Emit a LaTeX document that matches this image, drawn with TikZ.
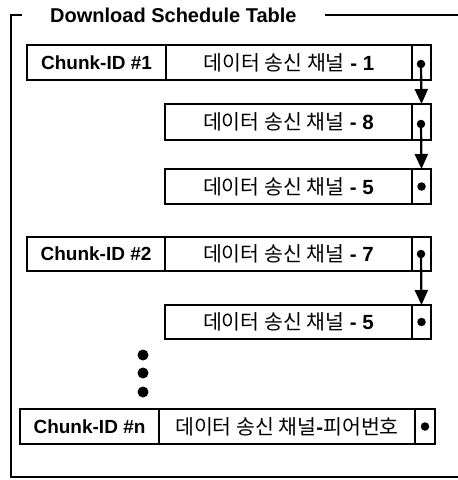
\documentclass[tikz,border=0pt]{standalone}
\usepackage{fontspec}
\setmainfont{Liberation Sans}
\newfontfamily\kr{Noto Sans CJK KR}
\usetikzlibrary{arrows.meta}
\begin{document}
\begin{tikzpicture}[x=1pt,y=-1pt,
  cell/.style={draw,line width=2.8pt,anchor=north west,inner sep=0pt,outer sep=0pt,minimum height=35pt},
  idtxt/.style={font=\fontsize{19}{20}\selectfont\bfseries},
  krtxt/.style={font=\fontsize{20.5}{22}\kr},
  ptrdot/.style={circle,fill=black,inner sep=0pt,minimum size=8.5pt},
  bigdot/.style={circle,fill=black,inner sep=0pt,minimum size=11pt},
  link/.style={line width=2.2pt,-{Triangle[width=13pt,length=15pt]}},
  frame/.style={line width=2.4pt}]
\useasboundingbox (0,0) rectangle (458,480);
% frame
\node[anchor=west,inner sep=0pt,font=\fontsize{20}{22}\selectfont\bfseries] (title) at (50,15) {Download Schedule Table};
\coordinate (tl) at (22,15);
\coordinate (bl) at (11,477);
\coordinate (br) at (458,477);
\coordinate (tr) at (458,15);
\coordinate (ts) at (325,15);
\draw[frame] (tl) -| (bl) -- (br);
\draw[frame] (ts) -- (tr);
% row 1
\node[cell,minimum width=139pt] (c1) at (27,45) {};
\node[idtxt] at (c1.center) {Chunk-ID \#1};
\node[cell,minimum width=246pt] (d1) at (166,45) {};
\node[krtxt] at (d1.center) {데이터 송신 채널\textbf{\rmfamily\ -\ 1}};
\node[cell,minimum width=19pt] (p1) at (412,45) {};
% row 2
\node[cell,minimum width=247pt,minimum height=36pt] (d2) at (165,104) {};
\node[krtxt] at (d2.center) {데이터 송신 채널\textbf{\rmfamily\ -\ 8}};
\node[cell,minimum width=19pt,minimum height=36pt] (p2) at (412,104) {};
% row 3
\node[cell,minimum width=247pt] (d3) at (165,169) {};
\node[krtxt] at (d3.center) {데이터 송신 채널\textbf{\rmfamily\ -\ 5}};
\node[cell,minimum width=19pt] (p3) at (412,169) {};
% row 4
\node[cell,minimum width=138pt,minimum height=34pt] (c4) at (27,237) {};
\node[idtxt] at (c4.center) {Chunk-ID \#2};
\node[cell,minimum width=247pt,minimum height=34pt] (d4) at (165,237) {};
\node[krtxt] at (d4.center) {데이터 송신 채널\textbf{\rmfamily\ -\ 7}};
\node[cell,minimum width=19pt,minimum height=34pt] (p4) at (412,237) {};
% row 5
\node[cell,minimum width=247pt,minimum height=34pt] (d5) at (165,305) {};
\node[krtxt] at (d5.center) {데이터 송신 채널\textbf{\rmfamily\ -\ 5}};
\node[cell,minimum width=19pt,minimum height=34pt] (p5) at (412,305) {};
% ellipsis dots
\node[bigdot] (e1) at (143,355) {};
\node[bigdot] (e2) at (143,373) {};
\node[bigdot] (e3) at (143,392) {};
% row n
\node[cell,minimum width=139pt] (cn) at (20,409) {};
\node[idtxt] at (cn.center) {Chunk-ID \#n};
\node[cell,minimum width=256pt] (dn) at (159,409) {};
\node[krtxt] at (dn.center) {데이터 송신 채널\textbf{\rmfamily -}피어번호};
\node[cell,minimum width=20pt] (pn) at (415,409) {};
% pointer dots
\node[ptrdot] (q1) at (421,64) {};
\node[ptrdot] (q2) at (421,124) {};
\node[ptrdot] (q3) at (p3.center) {};
\node[ptrdot] (q4) at (421,254) {};
\node[ptrdot] (q5) at (p5.center) {};
\node[ptrdot] (qn) at (pn.center) {};
% links
\draw[link] (q1.center) -- (p2.north);
\draw[link] (q2.center) -- (p3.north);
\draw[link] (q4.center) -- (p5.north);
\end{tikzpicture}
\end{document}
